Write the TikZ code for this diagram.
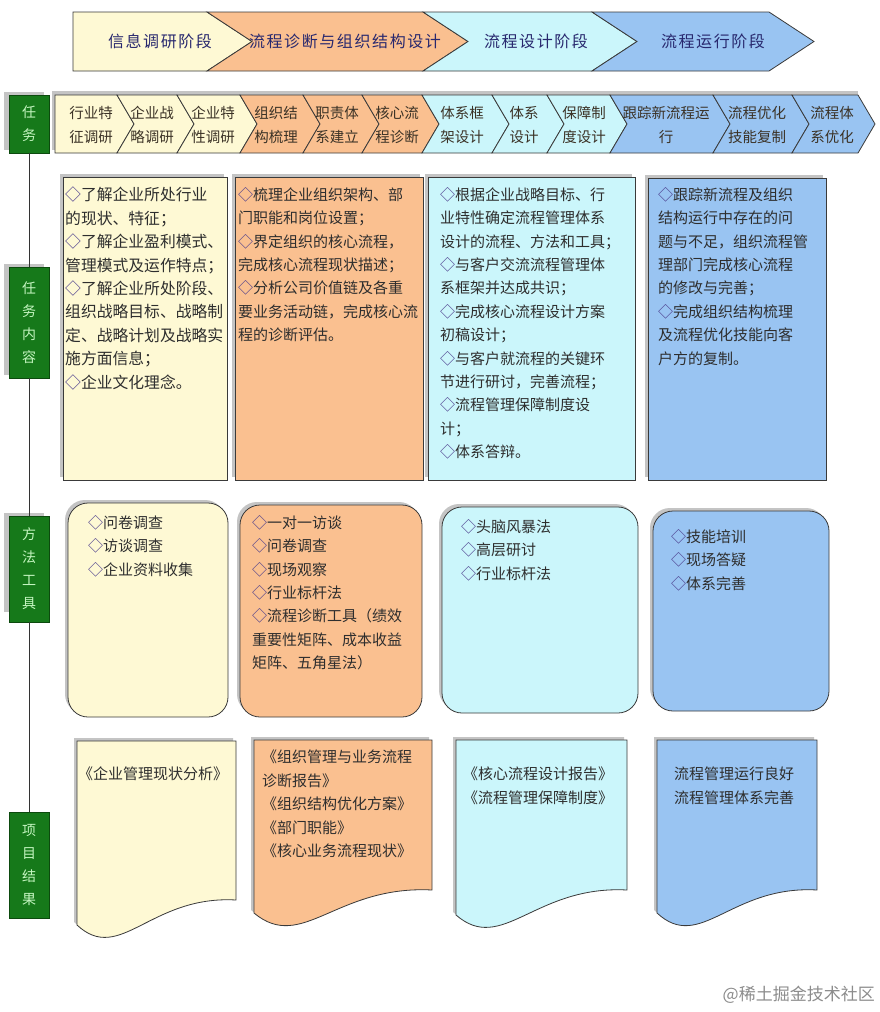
\documentclass[tikz,border=0pt]{standalone}
\usepackage{fontspec}
\newfontfamily\cjk{Noto Sans CJK SC}
\newfontfamily\cjkh[LetterSpace=10]{Noto Sans CJK SC}
\definecolor{cyel}{HTML}{FEF9D4}
\definecolor{cora}{HTML}{FAC090}
\definecolor{ccya}{HTML}{CBF6FB}
\definecolor{cblu}{HTML}{99C4F2}
\definecolor{cgrn}{HTML}{16791A}
\definecolor{cgrnd}{HTML}{0C4A0E}
\definecolor{cgrnt}{HTML}{C4F5C0}
\definecolor{edge}{HTML}{3A3A3A}
\definecolor{shd}{HTML}{C4C4C4}
\definecolor{htxt}{HTML}{28286E}
\definecolor{btxt}{HTML}{2E2E2E}
\definecolor{ctxt}{HTML}{3B3226}
\definecolor{dia}{HTML}{4A3C8C}
\newcommand\dmd{{\color{dia}◇}}
\newcommand\chev[4]{%
  \filldraw[box, fill=#4] (#1,95) -- (#2,95) -- ({#2+17},124) -- (#2,153) -- (#1,153) -- ({#1+17*#3},124) -- cycle;}
\newcommand\cbox[5]{%
  \fill[shd] ({#1-3},{#2-3}) rectangle ({#3-3},{#4-3});
  \filldraw[box, fill=#5] (#1,#2) rectangle (#3,#4);}
\newcommand\rbox[5]{%
  \fill[shd, rounded corners=20pt] ({#1-3},{#2-3}) rectangle ({#3-3},{#4-3});
  \filldraw[box, fill=#5, rounded corners=20pt] (#1,#2) rectangle (#3,#4);}
\newcommand\dbox[6]{%
  \begin{scope}[shift={(-3,-3)}]
  \fill[shd] (#1,#3) -- (#2,#3) -- (#2,#5) .. controls ({#2-0.54*(#2-#1)},{#5-5}) and ({#1+0.27*(#2-#1)},{#4+40}) .. (#1,#4) -- cycle;
  \end{scope}
  \filldraw[box, fill=#6] (#1,#3) -- (#2,#3) -- (#2,#5) .. controls ({#2-0.54*(#2-#1)},{#5-5}) and ({#1+0.27*(#2-#1)},{#4+40}) .. (#1,#4) -- cycle;}
\begin{document}
\begin{tikzpicture}[x=1pt,y=-1pt,
  box/.style={draw=edge, line width=0.8pt},
  txt/.style={font=\cjk\fontsize{15}{23.4}\selectfont, text=btxt, align=left, anchor=north west, inner sep=0pt},
  hdr/.style={font=\cjkh\fontsize{16}{18}\selectfont, text=htxt, inner sep=0pt},
  chtxt/.style={font=\cjk\fontsize{14.5}{24}\selectfont, text=ctxt, align=center, inner sep=0pt},
  lbl/.style={draw=cgrnd, line width=0.8pt, fill=cgrn, text=cgrnt, font=\cjk\fontsize{14}{23}\selectfont, align=center, minimum width=40pt, inner sep=0pt},
  lblsh/.style={fill=shd},
  vline/.style={draw=black!80, line width=0.8pt}]
\fill[white] (0,0) rectangle (880,1012);
\useasboundingbox (0,0) rectangle (880,1012);

% ---- phase header arrows
\filldraw[box, fill=cyel] (73,12) -- (207,12) -- (252,41.5) -- (207,71) -- (73,71) -- cycle;
\filldraw[box, fill=cora] (207,12) -- (423,12) -- (468,41.5) -- (423,71) -- (207,71) -- (252,41.5) -- cycle;
\filldraw[box, fill=ccya] (423,12) -- (592,12) -- (637,41.5) -- (592,71) -- (423,71) -- (468,41.5) -- cycle;
\filldraw[box, fill=cblu] (592,12) -- (769,12) -- (814,41.5) -- (769,71) -- (592,71) -- (637,41.5) -- cycle;
\node[hdr] (h1) at (160,41.5) {信息调研阶段};
\node[hdr] (h2) at (345,41.5) {流程诊断与组织结构设计};
\node[hdr] (h3) at (536,41.5) {流程设计阶段};
\node[hdr] (h4) at (713,41.5) {流程运行阶段};

% ---- task row
\fill[shd] (52,91) rectangle (858,150);
\chev{55}{117}{0}{cyel}
\chev{117}{177}{1}{cyel}
\chev{177}{240}{1}{cyel}
\chev{240}{303}{1}{cora}
\chev{303}{362}{1}{cora}
\chev{362}{422}{1}{cora}
\chev{422}{492}{1}{ccya}
\chev{492}{547}{1}{ccya}
\chev{547}{610}{1}{ccya}
\chev{610}{713}{1}{cblu}
\chev{713}{792}{1}{cblu}
\chev{792}{858}{1}{cblu}
\node[chtxt] (t1) at (91,125) {行业特\\征调研};
\node[chtxt] (t2) at (152,125) {企业战\\略调研};
\node[chtxt] (t3) at (213,125) {企业特\\性调研};
\node[chtxt] (t4) at (276,125) {组织结\\构梳理};
\node[chtxt] (t5) at (337,125) {职责体\\系建立};
\node[chtxt] (t6) at (397,125) {核心流\\程诊断};
\node[chtxt] (t7) at (462,125) {体系框\\架设计};
\node[chtxt] (t8) at (524,125) {体系\\设计};
\node[chtxt] (t9) at (584,125) {保障制\\度设计};
\node[chtxt] (t10) at (666,125) {跟踪新流程运\\行};
\node[chtxt] (t11) at (757,125) {流程优化\\技能复制};
\node[chtxt] (t12) at (832,125) {流程体\\系优化};

% ---- row labels
\fill[lblsh] (4,92) rectangle (44,150);
\node[lbl, minimum height=58pt] (l1) at (29,124) {任\\务};
\fill[lblsh] (4,264) rectangle (44,375);
\node[lbl, minimum height=111pt] (l2) at (29,322.5) {任\\务\\内\\容};
\fill[lblsh] (4,513) rectangle (44,612);
\node[lbl, minimum height=106pt] (l3) at (29,569) {方\\法\\工\\具};
\node[lbl, minimum height=106pt] (l4) at (29,865) {项\\目\\结\\果};
\draw[vline] (l1.south) -- (l2.north);
\draw[vline] (l2.south) -- (l3.north);
\draw[vline] (l3.south) -- (l4.north);

% ---- task content boxes
\cbox{63}{177}{227}{480}{cyel}
\cbox{235}{177}{423}{480}{cora}
\cbox{428}{177}{635}{480}{ccya}
\cbox{648}{178}{826}{480}{cblu}
\node[txt, font=\cjk\fontsize{15.8}{23.4}\selectfont] (c1) at (65,187) {\dmd 了解企业所处行业\\的现状、特征；\\\dmd 了解企业盈利模式、\\管理模式及运作特点；\\\dmd 了解企业所处阶段、\\组织战略目标、战略制\\定、战略计划及战略实\\施方面信息；\\\dmd 企业文化理念。};
\node[txt] (c2) at (238,187) {\dmd 梳理企业组织架构、部\\门职能和岗位设置；\\\dmd 界定组织的核心流程，\\完成核心流程现状描述；\\\dmd 分析公司价值链及各重\\要业务活动链，完成核心流\\程的诊断评估。};
\node[txt] (c3) at (440,187) {\dmd 根据企业战略目标、行\\业特性确定流程管理体系\\设计的流程、方法和工具；\\\dmd 与客户交流流程管理体\\系框架并达成共识；\\\dmd 完成核心流程设计方案\\初稿设计；\\\dmd 与客户就流程的关键环\\节进行研讨，完善流程；\\\dmd 流程管理保障制度设\\计；\\\dmd 体系答辩。};
\node[txt] (c4) at (658,187) {\dmd 跟踪新流程及组织\\结构运行中存在的问\\题与不足，组织流程管\\理部门完成核心流程\\的修改与完善；\\\dmd 完成组织结构梳理\\及流程优化技能向客\\户方的复制。};

% ---- method boxes
\rbox{68}{503}{228}{717}{cyel}
\rbox{240}{505}{422}{717}{cora}
\rbox{442}{507}{638}{713}{ccya}
\rbox{653}{511}{829}{711}{cblu}
\node[txt] (m1) at (88,515) {\dmd 问卷调查\\\dmd 访谈调查\\\dmd 企业资料收集};
\node[txt] (m2) at (252,515) {\dmd 一对一访谈\\\dmd 问卷调查\\\dmd 现场观察\\\dmd 行业标杆法\\\dmd 流程诊断工具（绩效\\重要性矩阵、成本收益\\矩阵、五角星法）};
\node[txt] (m3) at (461,519) {\dmd 头脑风暴法\\\dmd 高层研讨\\\dmd 行业标杆法};
\node[txt] (m4) at (671,529) {\dmd 技能培训\\\dmd 现场答疑\\\dmd 体系完善};

% ---- result documents
\dbox{77}{236}{741}{925}{900}{cyel}
\dbox{254}{432}{740}{913}{890}{cora}
\dbox{456}{627}{740}{915}{890}{ccya}
\dbox{657}{817}{740}{913}{890}{cblu}
\node[txt] (r1) at (78,767) {《企业管理现状分析》};
\node[txt] (r2) at (262,750) {《组织管理与业务流程\\诊断报告》\\《组织结构优化方案》\\《部门职能》\\《核心业务流程现状》};
\node[txt] (r3) at (463,767) {《核心流程设计报告》\\《流程管理保障制度》};
\node[txt] (r4) at (674,767) {流程管理运行良好\\流程管理体系完善};

% ---- watermark
\node[font=\cjk\fontsize{17}{20}\selectfont, text=black!45, anchor=east, inner sep=0pt] (wm) at (875,995) {@稀土掘金技术社区};
\end{tikzpicture}
\end{document}
